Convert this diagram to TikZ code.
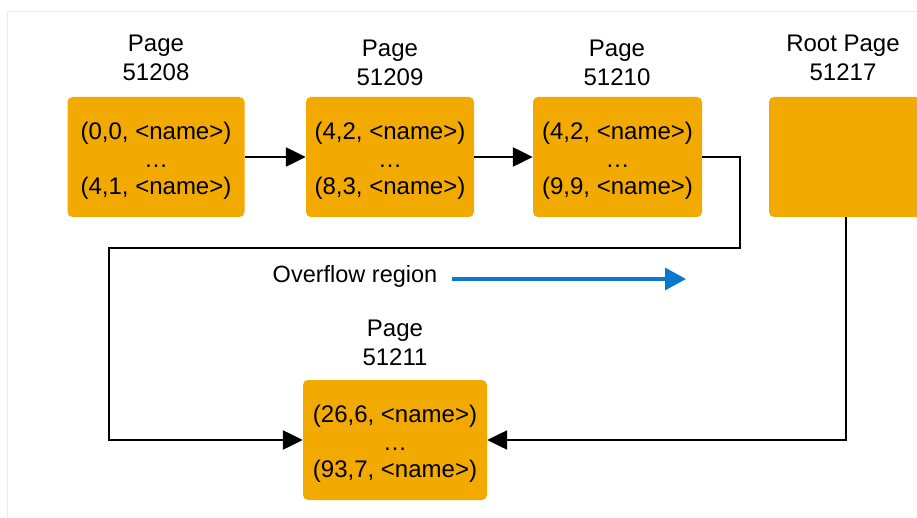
\documentclass[tikz,border=0pt]{standalone}
\usepackage{fontspec}
\setmainfont{Liberation Sans}
\usetikzlibrary{arrows.meta}
\definecolor{boxorange}{HTML}{F2A900}
\definecolor{flowblue}{HTML}{0B78CF}
\definecolor{framegray}{HTML}{E6EDF3}
\begin{document}
\begin{tikzpicture}[x=1pt,y=-1pt,
  pagebox/.style={fill=boxorange, rounded corners=5pt, inner sep=0pt, align=center,
    font=\fontsize{24}{27.5}\selectfont},
  pagetitle/.style={align=center, font=\fontsize{24}{29}\selectfont},
  arr/.style={draw=black, line width=2.4pt, -{Triangle[length=20pt,width=19pt]}},
  bluearr/.style={draw=flowblue, line width=3.2pt, -{Triangle[length=21pt,width=22pt]}},
  framestyle/.style={draw=framegray, line width=1pt}]
\useasboundingbox (0,0) rectangle (917,518);
\fill[white] (0,0) rectangle (917,518);
\draw[framestyle] (7,518) -- (7,12) -- (917,12);

% boxes
\node[pagebox, minimum width=177pt, minimum height=120pt] (A) at (156,157)
  {\rule{0pt}{25pt}(0,0, <name>)\\…\\(4,1, <name>)};
\node[pagebox, minimum width=168pt, minimum height=120pt] (B) at (390,157)
  {\rule{0pt}{25pt}(4,2, <name>)\\…\\(8,3, <name>)};
\node[pagebox, minimum width=169pt, minimum height=120pt] (C) at (617.5,157)
  {\rule{0pt}{25pt}(4,2, <name>)\\…\\(9,9, <name>)};
\node[pagebox, minimum width=154pt, minimum height=120pt] (R) at (846,157) {};
\node[pagebox, minimum width=184pt, minimum height=120pt] (E) at (395,440)
  {\rule{0pt}{25pt}(26,6, <name>)\\…\\(93,7, <name>)};

% titles
\node[pagetitle] (tA) at (156,57.5) {Page\\51208};
\node[pagetitle] (tB) at (390,62.5) {Page\\51209};
\node[pagetitle] (tC) at (617,62.5) {Page\\51210};
\node[pagetitle] (tR) at (843,57.5) {Root Page\\51217};
\node[pagetitle] (tE) at (395,343) {Page\\51211};

% connectors
\draw[arr] (A) -- (B);
\draw[arr] (B) -- (C);
\coordinate (c1) at (740,248);
\coordinate (c2) at (109,440);
\draw[arr] (C.east) -| (c1) -| (c2) -- (E.west);
\draw[arr] (R.south) |- (E.east);

% overflow region
\node[font=\fontsize{23.5}{26}\selectfont, inner sep=0pt] (ov) at (355,276) {Overflow region};
\coordinate (b1) at (452,279);
\coordinate (b2) at (686,279);
\draw[bluearr] (b1) -- (b2);
\end{tikzpicture}
\end{document}
